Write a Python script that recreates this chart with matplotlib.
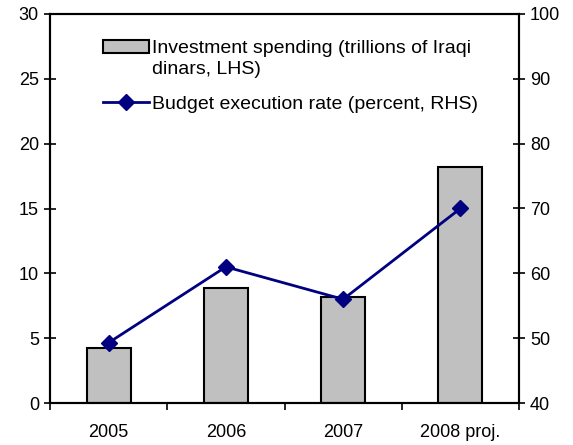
import matplotlib
matplotlib.use("Agg")
import matplotlib.pyplot as plt
from matplotlib.patches import Rectangle
from matplotlib.legend_handler import HandlerPatch
import numpy as np

plt.rcParams['font.family'] = ['Liberation Sans', 'DejaVu Sans']

categories = ["2005", "2006", "2007", "2008 proj."]
investment = [4.22, 8.89, 8.15, 18.2]          # trillions of Iraqi dinars (LHS)
execution_rate = [49.3, 61.0, 56.0, 70.0]     # percent (RHS)
left_ticks = [0, 5, 10, 15, 20, 25, 30]
right_ticks = [40, 50, 60, 70, 80, 90, 100]

fig = plt.figure(figsize=(5.73, 4.45), dpi=100)
ax = fig.add_axes([50 / 573, 1 - 403 / 445, (519 - 50) / 573, (403 - 14) / 445])
ax2 = ax.twinx()

x = np.arange(len(categories))
bars = ax.bar(x, investment, width=0.375, color="#c0c0c0", edgecolor="black",
              linewidth=1.5, label="Investment spending (trillions of Iraqi\ndinars, LHS)",
              zorder=2)
line, = ax2.plot(x, execution_rate, color="#000080", linewidth=2, marker="D",
                 markersize=8, label="Budget execution rate (percent, RHS)")

ax.set_xlim(-0.5, len(categories) - 0.5)
ax.set_ylim(0, 30)
ax2.set_ylim(40, 100)
ax.set_yticks(left_ticks)
ax2.set_yticks(right_ticks)

ax.set_xticks(x)
ax.set_xticklabels(categories, fontsize=13)
ax.tick_params(axis="x", length=0, pad=15)
# category boundary ticks
ax.set_xticks(np.arange(-0.5, len(categories)), minor=True)
ax.tick_params(axis="x", which="minor", length=5, width=1.2, direction="out")

ax.tick_params(axis="y", labelsize=13, length=8, width=1.2, direction="inout", pad=4)
ax2.tick_params(axis="y", labelsize=13, length=8, width=1.2, direction="inout", pad=4)

for a in (ax, ax2):
    for s in a.spines.values():
        s.set_linewidth(1.5)


def first_line_patch(legend, orig_handle, xdescent, ydescent, width, height, fontsize):
    # keep the bar swatch level with the first line of its two-line label
    return Rectangle((-xdescent, -ydescent + 9.0), width, height)


bar_handle = bars.patches[0]
leg = ax.legend([bar_handle, line], [bars.get_label(), line.get_label()],
                loc="upper left", bbox_to_anchor=(0.112, 0.932), frameon=False,
                fontsize=14, handlelength=2.4, handleheight=0.62, handletextpad=0.15,
                labelspacing=0.9, borderpad=0, borderaxespad=0,
                handler_map={bar_handle: HandlerPatch(patch_func=first_line_patch)})
for t in leg.get_texts():
    t.set_linespacing(1.3)

fig.savefig("out.png", dpi=100)
